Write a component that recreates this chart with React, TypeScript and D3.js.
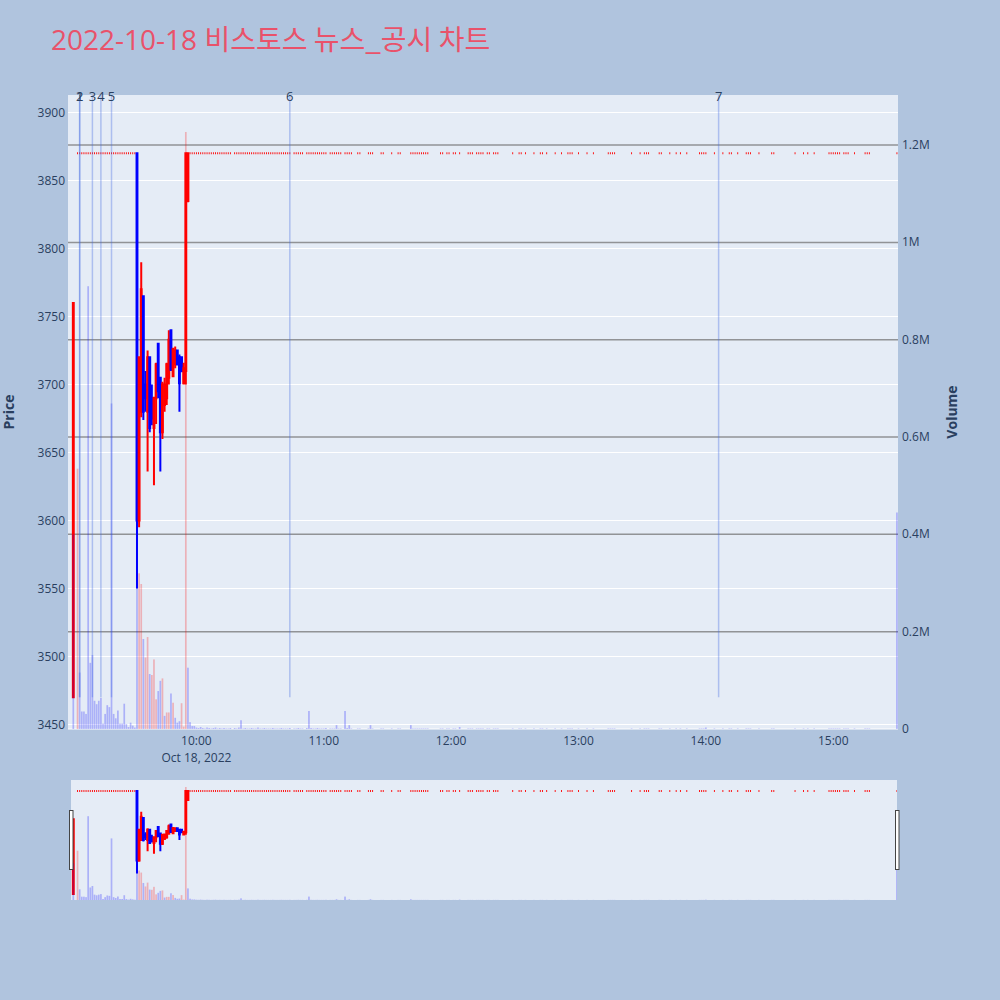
import React from "react";
import * as d3 from "d3";

const chartTitleDate = "2022-10-18 ";
const chartTitleText = "비스토스 뉴스_공시 차트";
const tradeDate = "2022-10-18";

// Active candles (time, open, high, low, close, volume)
const candleTimes = ["09:02", "09:32", "09:33", "09:34", "09:35", "09:36", "09:37", "09:38", "09:39", "09:40", "09:41", "09:42", "09:43", "09:44", "09:45", "09:46", "09:47", "09:48", "09:49", "09:50", "09:51", "09:52", "09:53", "09:54", "09:55", "09:56"];
const candleOpen = [3470, 3870, 3600, 3680, 3765, 3700, 3680, 3720, 3690, 3668, 3690, 3730, 3705, 3665, 3685, 3690, 3705, 3740, 3706, 3715, 3725, 3720, 3720, 3701, 3710, 3835];
const candleHigh = [3760, 3870, 3720, 3790, 3765, 3710, 3725, 3720, 3700, 3691, 3716, 3730, 3705, 3702, 3705, 3716, 3740, 3740, 3727, 3728, 3725, 3722, 3720, 3716, 3870, 3870];
const candleLow = [3470, 3550, 3595, 3676, 3674, 3680, 3636, 3665, 3670, 3626, 3671, 3690, 3636, 3660, 3680, 3685, 3700, 3710, 3706, 3712, 3714, 3680, 3709, 3700, 3700, 3834];
const candleClose = [3760, 3600, 3720, 3770, 3680, 3690, 3720, 3668, 3675, 3690, 3715, 3695, 3665, 3700, 3700, 3715, 3733, 3711, 3726, 3725, 3715, 3701, 3710, 3712, 3870, 3870];
const candleVolume = [400000, 300000, 320000, 298000, 185000, 147000, 189000, 113000, 111000, 143000, 61000, 78000, 99000, 104000, 27000, 34000, 34000, 73000, 54000, 23000, 13000, 16000, 53000, 5000, 1227000, 126000];

// Minutes traded flat at the upper limit price (time, volume)
const limitPrice = 3870;
const limitTrades: [string, number][] = [
  ["09:04", 535000], ["09:05", 116000], ["09:06", 36000], ["09:07", 36000], ["09:08", 31000], ["09:09", 910000], ["09:10", 136000], ["09:11", 152000], ["09:12", 58000], ["09:13", 51000], ["09:14", 58000], ["09:15", 64000], ["09:16", 11000], ["09:17", 31000], ["09:18", 49000], ["09:19", 45000], ["09:20", 669000], ["09:21", 31000], ["09:22", 22000], ["09:23", 38000], ["09:24", 11000], ["09:25", 11000], ["09:26", 52000], ["09:27", 10000], ["09:28", 4000], ["09:29", 13000], ["09:30", 7000], ["09:31", 3000],
  ["09:57", 14000], ["09:58", 6000], ["09:59", 6000], ["10:00", 3000], ["10:01", 2000], ["10:02", 4000], ["10:03", 2000], ["10:04", 1000], ["10:05", 3000], ["10:06", 2000], ["10:07", 1000], ["10:08", 2000], ["10:09", 3000], ["10:10", 1000], ["10:11", 2000], ["10:12", 1000], ["10:13", 2000], ["10:14", 1000], ["10:15", 1000], ["10:16", 2000],
  ["10:18", 2000], ["10:19", 1000], ["10:20", 3000], ["10:21", 18000], ["10:22", 1000], ["10:23", 2000], ["10:24", 1000], ["10:25", 1000], ["10:26", 2000], ["10:27", 1000], ["10:28", 1000], ["10:29", 3000], ["10:30", 1000], ["10:31", 1000], ["10:32", 2000], ["10:33", 1000], ["10:34", 1000], ["10:35", 1000], ["10:36", 2000], ["10:37", 1000], ["10:38", 1000], ["10:39", 1000], ["10:40", 2000], ["10:41", 1000], ["10:42", 1000], ["10:43", 1000], ["10:44", 2000],
  ["10:46", 1000], ["10:47", 1000], ["10:48", 2000], ["10:49", 1000], ["10:50", 1000],
  ["10:52", 2000], ["10:53", 37000], ["10:54", 2000], ["10:55", 1000], ["10:56", 1000], ["10:57", 2000], ["10:58", 1000], ["10:59", 1000], ["11:00", 1000], ["11:01", 2000],
  ["11:03", 1000], ["11:04", 1000], ["11:05", 1000], ["11:06", 8000], ["11:07", 1000], ["11:08", 1000],
  ["11:10", 37000], ["11:11", 2000], ["11:12", 8000], ["11:13", 1000],
  ["11:16", 1000], ["11:17", 1000], ["11:21", 1000], ["11:22", 8000], ["11:23", 1000], ["11:27", 1000], ["11:28", 1000], ["11:32", 1000], ["11:35", 1000], ["11:36", 1000],
  ["11:41", 8000], ["11:42", 1000], ["11:43", 1000], ["11:44", 1000], ["11:45", 1000], ["11:46", 1000], ["11:47", 1000], ["11:48", 1000], ["11:49", 1000],
  ["11:55", 1000], ["11:56", 1000], ["11:58", 1000], ["11:59", 1000], ["12:01", 1000], ["12:02", 1000], ["12:04", 4000], ["12:08", 1000], ["12:09", 1000], ["12:10", 1000], ["12:12", 1000], ["12:13", 1000], ["12:14", 1000], ["12:15", 1000], ["12:17", 1000], ["12:18", 1000], ["12:20", 1000], ["12:21", 1000], ["12:22", 1000],
  ["12:29", 1000], ["12:32", 1000], ["12:33", 1000], ["12:35", 1000], ["12:39", 1000], ["12:42", 1000], ["12:43", 1000], ["12:45", 1000], ["12:49", 1000], ["12:52", 1000], ["12:55", 1000], ["12:56", 1000], ["12:57", 1000],
  ["13:00", 1000], ["13:04", 1000], ["13:07", 1000], ["13:14", 1000], ["13:15", 1000], ["13:16", 1000], ["13:17", 1000], ["13:25", 1000], ["13:29", 1000], ["13:31", 1000], ["13:32", 1000], ["13:33", 1000], ["13:38", 1000], ["13:39", 1000], ["13:43", 1000], ["13:46", 1000], ["13:48", 1000], ["13:51", 1000], ["13:57", 1000], ["13:58", 1000], ["13:59", 1000], ["14:00", 3000],
  ["14:04", 1000], ["14:08", 1000], ["14:11", 1000], ["14:12", 1000], ["14:15", 1000], ["14:19", 1000], ["14:20", 1000], ["14:21", 1000], ["14:25", 1000], ["14:31", 1000], ["14:32", 1000], ["14:42", 1000], ["14:46", 1000], ["14:48", 1000], ["14:51", 1000],
  ["14:58", 1000], ["14:59", 1000], ["15:00", 1000], ["15:01", 1000], ["15:02", 1000], ["15:03", 1000], ["15:05", 1000], ["15:06", 1000], ["15:07", 1000], ["15:10", 1000], ["15:15", 1000], ["15:16", 1000], ["15:17", 1000], ["15:30", 445000],
];

const newsTimes = ["09:05", "09:05", "09:11", "09:15", "09:20", "10:44", "14:06"];
const newsLabels = ["1", "2", "3", "4", "5", "6", "7"];
const newsLinePriceBottom = 3470;

const priceTicks = [3450, 3500, 3550, 3600, 3650, 3700, 3750, 3800, 3850, 3900];
const volumeTicks = [0, 200000, 400000, 600000, 800000, 1000000, 1200000];
const volumeTickLabels = ["0", "0.2M", "0.4M", "0.6M", "0.8M", "1M", "1.2M"];
const timeTicks = ["10:00", "11:00", "12:00", "13:00", "14:00", "15:00"];
const firstTickDateLabel = "Oct 18, 2022";

const priceDomain = [3446.7, 3912.9];
const volumeDomain = [0, 1303000];
const timeDomain = ["08:59:30", "15:30:30"];

const P = { left: 68, right: 898, top: 95, bottom: 729 };
const S = { left: 71, right: 897, top: 780, bottom: 900 };
const FONT = "'Open Sans', 'Noto Sans', sans-serif";
const TXT = "#2a3f5f";

const parseFull = d3.timeParse("%Y-%m-%d %H:%M:%S");
const parseT = (s: string) => parseFull(`${tradeDate} ${s.length === 5 ? s + ":00" : s}`) as Date;

type Bar = { t: Date; o: number; h: number; l: number; c: number; v: number; up: boolean; vUp: boolean };

function buildSeries(): Bar[] {
  const rows: { t: Date; o: number; h: number; l: number; c: number; v: number }[] = [];
  candleTimes.forEach((s, i) =>
    rows.push({ t: parseT(s), o: candleOpen[i], h: candleHigh[i], l: candleLow[i], c: candleClose[i], v: candleVolume[i] })
  );
  limitTrades.forEach(([s, v]) => rows.push({ t: parseT(s), o: limitPrice, h: limitPrice, l: limitPrice, c: limitPrice, v }));
  rows.sort((a, b) => +a.t - +b.t);
  let prevDir = true;
  return rows.map((r, i) => {
    let up = prevDir;
    if (r.c > r.o) up = true;
    else if (r.c < r.o) up = false;
    prevDir = up;
    const vUp = i > 0 && r.c > rows[i - 1].c;
    return { ...r, up, vUp };
  });
}

const series = buildSeries();

function candlePath(cx: number, b: Bar, y: (v: number) => number) {
  const w = 0.45;
  const yo = y(b.o), yc = y(b.c), yh = y(b.h), yl = y(b.l);
  const top = Math.min(yo, yc), bot = Math.max(yo, yc);
  return `M${cx - w},${yo}H${cx + w}V${yc}H${cx - w}Z M${cx},${yh}V${top} M${cx},${yl}V${bot}`;
}

export default function App() {
  const x = d3.scaleTime().domain(timeDomain.map(parseT)).range([P.left, P.right]);
  const yP = d3.scaleLinear().domain(priceDomain).range([P.bottom, P.top]);
  const yV = d3.scaleLinear().domain(volumeDomain).range([P.bottom, P.top]);
  const yPs = d3.scaleLinear().domain(priceDomain).range([S.bottom, S.top]);
  const yVs = d3.scaleLinear().domain(volumeDomain).range([S.bottom, S.top]);
  const barW = (x(parseT("10:01")) - x(parseT("10:00"))) * 0.8;

  const renderCandles = (yp: (v: number) => number, keyp: string) =>
    series.map((b, i) => {
      const col = b.up ? "#ff0000" : "#0000ff";
      return (
        <path key={keyp + i} d={candlePath(x(b.t), b, yp)} fill={col} stroke={col} strokeWidth={2} />
      );
    });
  const renderVolumes = (yv: (v: number) => number, keyp: string) =>
    series.map((b, i) => (
      <rect
        key={keyp + i}
        x={x(b.t) - barW / 2}
        y={yv(b.v)}
        width={barW}
        height={Math.max(0, yv(0) - yv(b.v))}
        fill={b.vUp ? "rgba(255,0,0,0.25)" : "rgba(0,0,255,0.25)"}
      />
    ));

  return (
    <svg width={1000} height={1000} style={{ display: "block", position: "absolute", left: 0, top: 0 }} fontFamily={FONT}>
      <rect x={0} y={0} width={1000} height={1000} fill="#b0c4de" />
      <text x={51} y={50} fontSize={28} fill="#e9526a" fontFamily={FONT}>
        <tspan>{chartTitleDate}</tspan>
        <tspan fontSize={28} fontFamily="'Noto Sans CJK KR', sans-serif">{chartTitleText}</tspan>
      </text>

      {/* main plot */}
      <rect x={P.left} y={P.top} width={P.right - P.left} height={P.bottom - P.top} fill="#e5ecf6" />
      <clipPath id="mainclip">
        <rect x={P.left} y={P.top} width={P.right - P.left} height={P.bottom - P.top} />
      </clipPath>
      {priceTicks.map((t) => (
        <line key={"pg" + t} x1={P.left} x2={P.right} y1={yP(t)} y2={yP(t)} stroke="#ffffff" strokeWidth={1} />
      ))}
      {volumeTicks.map((t) => (
        <line key={"vg" + t} x1={P.left} x2={P.right} y1={yV(t)} y2={yV(t)} stroke={t === 0 ? "#ffffff" : "rgba(110,110,110,0.7)"} strokeWidth={t === 0 ? 1 : 1.5} />
      ))}
      <g clipPath="url(#mainclip)">
        {renderCandles(yP, "c")}
        {renderVolumes(yV, "v")}
        {newsTimes.map((t, i) => (
          <line key={"nl" + i} x1={x(parseT(t))} x2={x(parseT(t))} y1={yP(newsLinePriceBottom)} y2={P.top} stroke="rgba(65,105,225,0.35)" strokeWidth={1.5} />
        ))}
      </g>
      {newsTimes.map((t, i) => (
        <text key={"nt" + i} x={x(parseT(t))} y={101} fontSize={13} fill={TXT} textAnchor="middle">{newsLabels[i]}</text>
      ))}

      {/* axes labels */}
      {priceTicks.map((t) => (
        <text key={"pt" + t} x={65} y={yP(t) + 4} fontSize={12} fill={TXT} textAnchor="end">{t}</text>
      ))}
      {volumeTicks.map((t, i) => (
        <text key={"vt" + t} x={902} y={yV(t) + 4} fontSize={12} fill={TXT} textAnchor="start">{volumeTickLabels[i]}</text>
      ))}
      {timeTicks.map((t, i) => (
        <g key={"tt" + t}>
          <text x={x(parseT(t))} y={745} fontSize={12} fill={TXT} textAnchor="middle">{t}</text>
          {i === 0 && (
            <text x={x(parseT(t))} y={762} fontSize={12} fill={TXT} textAnchor="middle">{firstTickDateLabel}</text>
          )}
        </g>
      ))}
      <text transform={`translate(14,${(P.top + P.bottom) / 2}) rotate(-90)`} fontSize={14} fontWeight="bold" fill={TXT} textAnchor="middle">Price</text>
      <text transform={`translate(957,${(P.top + P.bottom) / 2}) rotate(-90)`} fontSize={14} fontWeight="bold" fill={TXT} textAnchor="middle">Volume</text>

      {/* range slider */}
      <rect x={S.left} y={S.top} width={S.right - S.left} height={S.bottom - S.top} fill="#e5ecf6" />
      <clipPath id="sliderclip">
        <rect x={S.left} y={S.top} width={S.right - S.left} height={S.bottom - S.top} />
      </clipPath>
      <g clipPath="url(#sliderclip)">
        {renderCandles(yPs, "sc")}
        {renderVolumes(yVs, "sv")}
      </g>
      <rect x={69.5} y={810.5} width={3.5} height={59} fill="#ffffff" stroke="#444" strokeWidth={1} />
      <rect x={895.5} y={810.5} width={3.5} height={59} fill="#ffffff" stroke="#444" strokeWidth={1} />
    </svg>
  );
}
